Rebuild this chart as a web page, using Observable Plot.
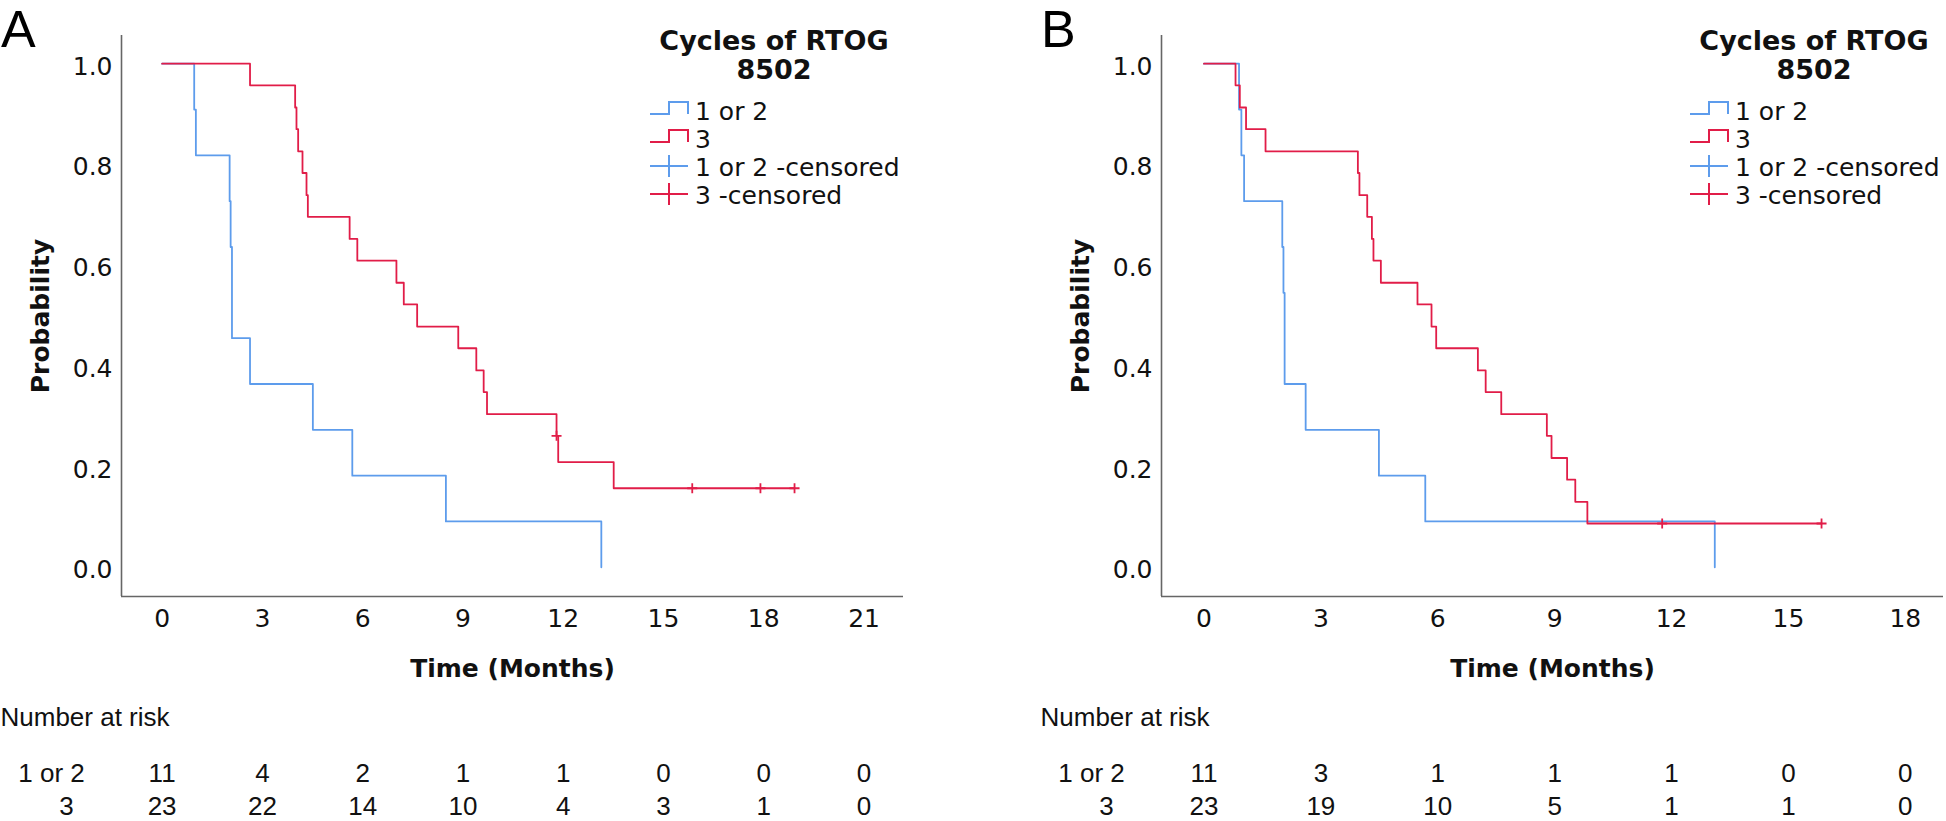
<!DOCTYPE html>
<html>
<head>
<meta charset="utf-8">
<script src="https://cdn.jsdelivr.net/npm/d3@7"></script>
<script src="https://cdn.jsdelivr.net/npm/@observablehq/plot@0.6"></script>
<style>
  html, body { margin: 0; padding: 0; background: #fff; }
  #root { position: relative; width: 1946px; height: 821px; overflow: hidden; background: #fff; }
  .panel { position: absolute; top: 0; height: 821px; }
  .panel svg { position: absolute; left: 0; top: 0; overflow: visible; }
</style>
</head>
<body>
<div id="root"></div>
<script>
// ---------- shared ----------
const groups = ["1 or 2", "3"];
const groupColors = ["#5d9cec", "#e11d48"];
const legendTitle = ["Cycles of RTOG", "8502"];
const legendLabels = ["1 or 2", "3", "1 or 2 -censored", "3 -censored"];
const yTicks = [0, 0.2, 0.4, 0.6, 0.8, 1.0];
const xTitle = "Time (Months)";
const yTitle = "Probability";
const riskTitle = "Number at risk";

// ---------- Panel A ----------
const timeA1 = [0, 0.96, 1.01, 2.02, 2.05, 2.09, 2.63, 4.51, 5.69, 8.49, 13.14];
const survA1 = [1, 0.909, 0.818, 0.727, 0.636, 0.455, 0.364, 0.273, 0.182, 0.091, 0];
const timeA3 = [0, 2.63, 3.98, 4.02, 4.07, 4.2, 4.32, 4.36, 5.61, 5.84, 7.01, 7.23, 7.63, 8.86, 9.4, 9.62, 9.72, 11.8, 11.85, 13.51, 18.92];
const survA3 = [1, 0.957, 0.913, 0.870, 0.826, 0.783, 0.739, 0.696, 0.652, 0.609, 0.565, 0.522, 0.478, 0.435, 0.391, 0.348, 0.304, 0.261, 0.209, 0.157, 0.157];
const censTimeA3 = [11.8, 15.86, 17.9, 18.92];
const censSurvA3 = [0.261, 0.157, 0.157, 0.157];
const ticksA = [0, 3, 6, 9, 12, 15, 18, 21];
const riskA1 = [11, 4, 2, 1, 1, 0, 0, 0];
const riskA3 = [23, 22, 14, 10, 4, 3, 1, 0];

// ---------- Panel B ----------
const timeB1 = [0, 0.90, 0.96, 1.03, 2.01, 2.04, 2.07, 2.61, 4.49, 5.68, 13.11];
const survB1 = [1, 0.909, 0.818, 0.727, 0.636, 0.545, 0.364, 0.273, 0.182, 0.091, 0];
const timeB3 = [0, 0.81, 0.92, 1.08, 1.58, 3.95, 3.99, 4.19, 4.31, 4.35, 4.54, 5.48, 5.84, 5.96, 7.03, 7.23, 7.63, 8.8, 8.92, 9.32, 9.53, 9.84, 15.85];
const survB3 = [1, 0.957, 0.913, 0.870, 0.826, 0.783, 0.739, 0.696, 0.652, 0.609, 0.565, 0.522, 0.478, 0.435, 0.391, 0.348, 0.304, 0.261, 0.217, 0.174, 0.130, 0.087, 0.087];
const censTimeB3 = [11.76, 15.85];
const censSurvB3 = [0.087, 0.087];
const ticksB = [0, 3, 6, 9, 12, 15, 18];
const riskB1 = [11, 3, 1, 1, 1, 0, 0];
const riskB3 = [23, 19, 10, 5, 1, 1, 0];

// ---------- drawing ----------
const FONT = "'DejaVu Sans', sans-serif";

// pick a narrow Arial-like face for the risk table if one is installed
function hasFont(name) {
  const c = document.createElement("canvas").getContext("2d");
  const s = "Number at risk 1234567890";
  c.font = "30px monospace"; const w1 = c.measureText(s).width;
  c.font = `30px '${name}', monospace`; const w2 = c.measureText(s).width;
  return Math.abs(w1 - w2) > 0.5;
}
let TFONT = "'Liberation Sans', Arial, sans-serif", TSIZE = 26;
if (hasFont("Liberation Sans Narrow")) { TFONT = "'Liberation Sans Narrow', sans-serif"; TSIZE = 30; }
else if (hasFont("Arial Narrow")) { TFONT = "'Arial Narrow', sans-serif"; TSIZE = 30; }

const plusSymbol = {
  draw(ctx, size) {
    const r = Math.sqrt(size / Math.PI);
    ctx.moveTo(-r, 0); ctx.lineTo(r, 0);
    ctx.moveTo(0, -r); ctx.lineTo(0, r);
  }
};
const zip = (t, s) => t.map((v, i) => ({t: v, s: s[i]}));

function makePanel({left, width, letter, xDomain, ticks, curves, censored, risks}) {
  const root = document.getElementById("root");
  const div = document.createElement("div");
  div.className = "panel";
  div.style.left = left + "px";
  div.style.width = width + "px";
  root.appendChild(div);

  const yDomain = [-0.058, 1.056];
  const ML = 121, MT = 35, MB = 225, axisRight = 903;
  const axisColor = "#666";

  const marks = [
    Plot.ruleX([xDomain[0]], {stroke: axisColor, strokeWidth: 1.6}),
    Plot.ruleY([yDomain[0]], {stroke: axisColor, strokeWidth: 1.6}),
    Plot.axisY({ticks: yTicks, tickFormat: d3.format(".1f"), tickSize: 0, tickPadding: 9, dy: 3,
                label: null, fontSize: 25, fontFamily: FONT, fill: "#111"}),
    Plot.axisX({ticks: ticks, tickFormat: d => String(d), tickSize: 0, tickPadding: 13,
                label: null, fontSize: 25, fontFamily: FONT, fill: "#111"}),
    Plot.text([xTitle], {frameAnchor: "bottom", dy: 72, text: d => d, fontWeight: "bold",
                textAnchor: "middle", fontSize: 25, fontFamily: FONT, lineAnchor: "middle", fill: "#111"}),
    Plot.text([yTitle], {frameAnchor: "left", dx: -81, rotate: -90, text: d => d, fontWeight: "bold",
                textAnchor: "middle", fontSize: 25, fontFamily: FONT, lineAnchor: "middle", fill: "#111"})
  ];
  curves.forEach((c, gi) => {
    marks.push(Plot.line(zip(c.t, c.s), {x: "t", y: "s", curve: "step-after",
      stroke: groupColors[gi], strokeWidth: 1.8}));
  });
  censored.forEach((c, gi) => {
    if (!c) return;
    marks.push(Plot.dot(zip(c.t, c.s), {x: "t", y: "s", symbol: plusSymbol, r: 5,
      stroke: groupColors[gi], strokeWidth: 1.8, fill: "none"}));
  });
  // number at risk table
  marks.push(Plot.text([riskTitle], {frameAnchor: "bottom-left", dx: -ML, dy: 121, text: d => d,
    textAnchor: "start", lineAnchor: "middle", fontSize: TSIZE, fontFamily: TFONT, fill: "#111"}));
  const rowDy = [177, 210];
  const labelDx = [-70, -55];
  risks.forEach((r, gi) => {
    marks.push(Plot.text([groups[gi]], {frameAnchor: "bottom-left", dx: labelDx[gi], dy: rowDy[gi],
      text: d => d, textAnchor: "middle", lineAnchor: "middle", fontSize: TSIZE, fontFamily: TFONT, fill: "#111"}));
    marks.push(Plot.text(zip(ticks, r), {x: "t", frameAnchor: "bottom", dy: rowDy[gi], text: "s",
      textAnchor: "middle", lineAnchor: "middle", fontSize: TSIZE, fontFamily: TFONT, fill: "#111"}));
  });

  const chart = Plot.plot({
    width, height: 821,
    marginLeft: ML, marginTop: MT, marginBottom: MB, marginRight: width - axisRight,
    style: {fontFamily: FONT, fontSize: "25px", background: "transparent", overflow: "visible", color: "#111"},
    x: {domain: xDomain},
    y: {domain: yDomain},
    marks
  });
  div.appendChild(chart);

  // overlay: panel letter + legend
  const ov = d3.create("svg").attr("width", width).attr("height", 821);
  ov.append("text").attr("x", 1).attr("y", 47).attr("font-family", "'Liberation Sans', Arial, sans-serif")
    .attr("font-size", 52).attr("fill", "#000").text(letter);
  const lg = ov.append("g");
  const tcx = 774;
  legendTitle.forEach((t, i) => {
    lg.append("text").attr("x", tcx).attr("y", 50 + i * 28.5).attr("text-anchor", "middle")
      .attr("font-family", FONT).attr("font-weight", "bold").attr("font-size", 27)
      .attr("fill", "#111").text(t);
  });
  const x0 = 650, xm = 669, x1 = 688, tx = 695;
  legendLabels.forEach((lab, i) => {
    const base = 120 + i * 28;
    const col = groupColors[i % 2];
    if (i < 2) {
      lg.append("path").attr("d", `M${x0},${base - 6}H${xm}V${base - 18}H${x1}V${base - 6}`)
        .attr("fill", "none").attr("stroke", col).attr("stroke-width", 2);
    } else {
      lg.append("path").attr("d", `M${x0},${base - 10}H${x1}M${xm},${base - 21}V${base + 1}`)
        .attr("fill", "none").attr("stroke", col).attr("stroke-width", 2);
    }
    lg.append("text").attr("x", tx).attr("y", base).attr("font-family", FONT)
      .attr("font-size", 25).attr("fill", "#111").text(lab);
  });
  div.appendChild(ov.node());
}

makePanel({
  left: 0, width: 1040, letter: "A", xDomain: [-1.215, 22.18], ticks: ticksA,
  curves: [{t: timeA1, s: survA1}, {t: timeA3, s: survA3}],
  censored: [null, {t: censTimeA3, s: censSurvA3}],
  risks: [riskA1, riskA3]
});
makePanel({
  left: 1040, width: 906, letter: "B", xDomain: [-1.09, 18.98], ticks: ticksB,
  curves: [{t: timeB1, s: survB1}, {t: timeB3, s: survB3}],
  censored: [null, {t: censTimeB3, s: censSurvB3}],
  risks: [riskB1, riskB3]
});
</script>
</body>
</html>
